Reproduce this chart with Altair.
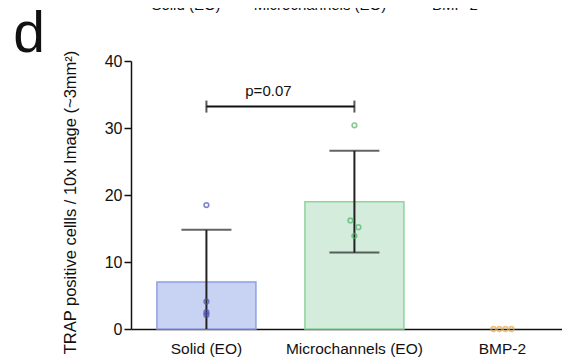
import altair as alt
import pandas as pd

groups = ["Solid (EO)", "Microchannels (EO)", "BMP-2"]
means = [7.0, 19.0, 0.0]
sds = [7.8, 7.6, 0.0]
fills = ["#c8d3f4", "#d3ecdb", "#fde9cc"]
strokes = ["#8f9fe4", "#8dd49d", "#f0b060"]
point_colors = ["#4b52b3", "#4fb468", "#eda63e"]

pt_group = ["Solid (EO)"] * 4 + ["Microchannels (EO)"] * 4 + ["BMP-2"] * 4
pt_value = [18.5, 4.1, 2.5, 2.1, 30.4, 16.2, 15.2, 13.9, 0, 0, 0, 0]
pt_jitter = [0, 0, 0, 0, 0, -4, 4, 0, -9, -3, 3, 9]

bracket_from = ["Solid (EO)"]
bracket_to = ["Microchannels (EO)"]
bracket_y = [33.2]
p_label = ["p=0.07"]

top_labels = ["Solid (EO)", "Microchannels (EO)", "BMP-2"]
top_label_x = [55, 189, 324]

FONT = "Liberation Sans"

bars = pd.DataFrame({"group": groups, "mean": means, "sd": sds})
bars["upper"] = bars["mean"] + bars["sd"]
bars["lower"] = (bars["mean"] - bars["sd"]).clip(lower=0)
pts = pd.DataFrame({"group": pt_group, "value": pt_value, "jit": pt_jitter})
br = pd.DataFrame({"group": bracket_from, "b": bracket_to, "y": bracket_y, "p": p_label})

xscale = alt.Scale(domain=groups, paddingInner=0.331, paddingOuter=0.1216, align=0.72)
yscale = alt.Scale(domain=[0, 40])
xaxis = alt.Axis(title=None, labelAngle=0, ticks=False, labelPadding=12,
                 labelFontSize=15.5, labelFont=FONT, labelColor="#111",
                 domainColor="#111", domainWidth=1.5)
xg = alt.X("group:N", scale=xscale, sort=groups, axis=xaxis)
yaxis = alt.Axis(values=[0, 10, 20, 30, 40], tickSize=7, tickWidth=1.5, tickColor="#111",
                 domainColor="#111", domainWidth=1.5, labelFontSize=16, labelFont=FONT,
                 labelColor="#111", labelPadding=2, grid=False,
                 title="TRAP positive cellls / 10x Image (~3mm²)", titleFont=FONT,
                 titleFontSize=16.5, titleFontWeight="normal", titleColor="#111",
                 titleX=-61, titleY=141, titleBaseline="middle", titleAngle=270)

def Y(field):
    return alt.Y(field, scale=yscale, axis=yaxis, title="TRAP positive cellls / 10x Image (~3mm²)")

bar_layer = alt.Chart(bars[bars["mean"] > 0]).mark_bar(strokeWidth=1.5, opacity=1).encode(
    x=xg,
    y=Y("mean:Q"),
    color=alt.Color("group:N", scale=alt.Scale(domain=groups, range=fills), legend=None),
    stroke=alt.Stroke("group:N", scale=alt.Scale(domain=groups, range=strokes), legend=None),
)

err = alt.Chart(bars[bars["sd"] > 0]).mark_rule(color="#222", strokeWidth=2).encode(
    x=xg, y=Y("lower:Q"), y2="upper:Q",
)
cap_up = alt.Chart(bars[bars["sd"] > 0]).mark_tick(color="#222", orient="horizontal",
                                                   size=50, thickness=2).encode(
    x=xg, y=Y("upper:Q"),
)
cap_lo = alt.Chart(bars[bars["lower"] > 0]).mark_tick(color="#222", orient="horizontal",
                                                      size=50, thickness=2).encode(
    x=xg, y=Y("lower:Q"),
)

point_layers = []
for j in sorted(set(pt_jitter)):
    sub = pts[pts["jit"] == j]
    point_layers.append(
        alt.Chart(sub).mark_point(shape="circle", filled=False, size=22, strokeWidth=1.6,
                                  xOffset=j).encode(
            x=xg,
            y=Y("value:Q"),
            stroke=alt.Stroke("group:N", scale=alt.Scale(domain=groups, range=point_colors),
                              legend=None),
        )
    )

bracket = alt.Chart(br).mark_rule(color="#111", strokeWidth=2).encode(
    x=xg, x2="b:N", y=Y("y:Q"),
)
bracket_end_a = alt.Chart(br).mark_tick(color="#111", orient="vertical", size=12,
                                        thickness=2).encode(x=xg, y=Y("y:Q"))
bracket_end_b = alt.Chart(br).mark_tick(color="#111", orient="vertical", size=12,
                                        thickness=2).encode(
    x=alt.X("b:N", scale=xscale, sort=groups, axis=xaxis), y=Y("y:Q"))
ptext = alt.Chart(br).mark_text(font=FONT, fontSize=15, color="#111", dx=62, dy=-16,
                                baseline="middle").encode(
    x=xg, y=Y("y:Q"), text="p:N")

panel = alt.Chart(pd.DataFrame({"t": ["d"]})).mark_text(
    font=FONT, fontSize=57, color="#111", align="center", baseline="alphabetic").encode(
    x=alt.value(-102), y=alt.value(-9), text="t:N")

top_layers = [
    alt.Chart(pd.DataFrame({"t": [lab]})).mark_text(
        font=FONT, fontSize=15, color="#111", align="center", baseline="alphabetic"
    ).encode(x=alt.value(px), y=alt.value(-51), text="t:N")
    for lab, px in zip(top_labels, top_label_x)
]

chart = alt.layer(bar_layer, err, cap_up, cap_lo, *point_layers, bracket, bracket_end_a,
                  bracket_end_b, ptext, panel, *top_layers).resolve_scale(
    color="independent", stroke="independent"
).properties(
    width=431, height=268,
    autosize=alt.AutoSizeParams(type="none"),
    padding={"left": 123, "top": 53, "right": 0, "bottom": 35},
    background="white",
).configure_view(stroke=None)

chart.save("out.html", embed_options={"renderer": "svg", "actions": False})
